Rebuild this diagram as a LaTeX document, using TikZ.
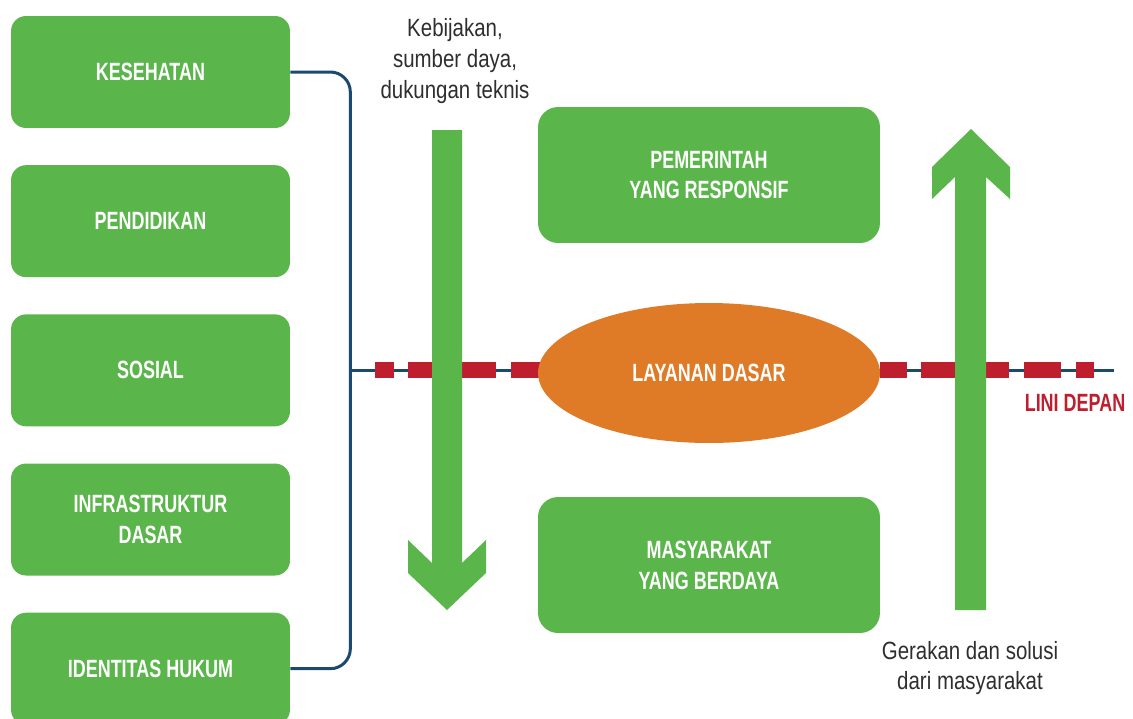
\documentclass[tikz,border=0pt]{standalone}
\usepackage{fontspec}
\setmainfont{Liberation Sans}
\newfontfamily\boxfont[FakeStretch=0.72]{Liberation Sans}
\newfontfamily\notefont[FakeStretch=0.82]{Liberation Sans}
\usetikzlibrary{positioning,shapes.geometric}
\definecolor{boxgreen}{HTML}{5AB54B}
\definecolor{huborange}{HTML}{DF7A26}
\definecolor{frontred}{HTML}{BE1E2D}
\definecolor{trunknavy}{HTML}{1C4A6E}
\definecolor{notegray}{HTML}{2E2E2E}
\begin{document}
\begin{tikzpicture}[x=0.02cm, y=-0.02cm, node distance=0.73cm,
    sector/.style = {fill=boxgreen, rounded corners=0.3cm, minimum width=5.58cm, minimum height=2.24cm,
        text=white, align=center, font=\boxfont\bfseries\fontsize{14.2}{17.6}\selectfont},
    goal/.style = {sector, rounded corners=0.4cm, minimum width=6.84cm, minimum height=2.72cm},
    hub/.style = {ellipse, fill=huborange, inner sep=0pt, minimum width=6.84cm, minimum height=2.8cm,
        text=white, font=\boxfont\bfseries\fontsize{14.2}{17.6}\selectfont},
    note/.style = {align=center, text=notegray, font=\notefont\fontsize{14.2}{17.6}\selectfont},
    trunk/.style = {trunknavy, line width=0.06cm},
    frontline/.style = {frontred, line width=0.32cm}]
    \useasboundingbox (0,0) rectangle (1133,718);

    % sektor layanan
    \node[sector] (k1) at (150.5,72) {KESEHATAN};
    \node[sector] (k2) [below=of k1] {PENDIDIKAN};
    \node[sector] (k3) [below=of k2] {SOSIAL};
    \node[sector] (k4) [below=of k3] {INFRASTRUKTUR\\DASAR};
    \node[sector] (k5) [below=of k4] {IDENTITAS HUKUM};

    % garis lini depan
    \coordinate (trunk) at (350,370);
    \coordinate (lineend) at (1114,370);
    \draw[trunk, rounded corners=0.4cm] (k1.east) -- ++(60,0) |- (k5.east);
    \draw[trunk] (trunk) -- (lineend);
    \foreach \a/\b in {375/394, 408/496, 511/540, 880/907, 921/1009, 1024/1061, 1076/1094}
        \draw[frontline] (\a,370) -- (\b,370);

    \node[hub] (layanan) at (709,373) {LAYANAN DASAR};
    \node[goal] (pemerintah) at (709,175) {PEMERINTAH\\YANG RESPONSIF};
    \node[goal] (masyarakat) at (709,565) {MASYARAKAT\\YANG BERDAYA};

    % panah
    \fill[boxgreen] (432,130) -- (432,563) -- (408,540) -- (408,573) -- (447,610)
        -- (486,573) -- (486,540) -- (462,563) -- (462,130) -- cycle;
    \fill[boxgreen] (955,610) -- (955,177) -- (932,199) -- (932,167) -- (971,129)
        -- (1010,167) -- (1010,199) -- (986,177) -- (986,610) -- cycle;

    \node[note] (atas) at (455,61) {Kebijakan,\\sumber daya,\\dukungan teknis};
    \node[note] (bawah) at (970,668) {Gerakan dan solusi\\dari masyarakat};
    \node[text=frontred, font=\boxfont\bfseries\fontsize{14.2}{17.6}\selectfont] (lini) at (1075,403) {LINI DEPAN};
\end{tikzpicture}
\end{document}
